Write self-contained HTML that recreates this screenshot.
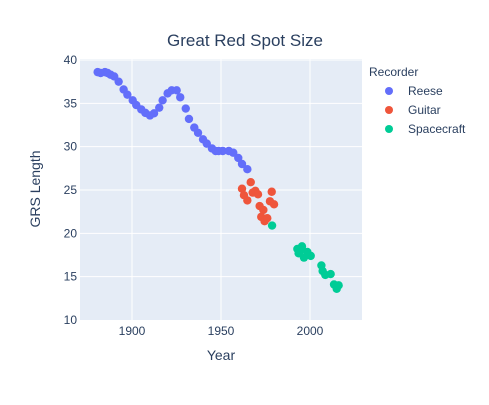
<!DOCTYPE html>
<html><head><meta charset="utf-8"><style>
body{margin:0;background:#fff;font-family:"Liberation Sans",Arial,sans-serif}
svg text{fill:#2a3f5f}
</style></head><body>
<svg width="489" height="400" id="c">
<text x="245" y="46" text-anchor="middle" font-size="17">Great Red Spot Size</text>
<rect x="80" y="59" width="282" height="261" fill="#e5ecf6"/>
<g id="grid"></g><g id="marks"></g>
<text x="221" y="360" text-anchor="middle" font-size="14">Year</text>
<text x="40" y="189" text-anchor="middle" font-size="14" transform="rotate(-90 40 189)">GRS Length</text>
<g>
<text x="369" y="76" font-size="12">Recorder</text>
<g><circle cx="389" cy="91" r="4" fill="#636efa"/><text x="408" y="95" font-size="12">Reese</text></g>
<g><circle cx="389" cy="110" r="4" fill="#ef553b"/><text x="408" y="114" font-size="12">Guitar</text></g>
<g><circle cx="389" cy="129" r="4" fill="#00cc96"/><text x="408" y="133" font-size="12">Spacecraft</text></g>
</g>
</svg>
<script>
const xTicks=[1900,1950,2000];
const yTicks=[10,15,20,25,30,35,40];
const reeseYears=[1880.7,1882.4,1884.8,1886.3,1888,1890,1892.5,1895.3,1897.4,1900.4,1902.4,1905.2,1907.5,1910.1,1912.4,1915.3,1917.2,1920,1922.3,1925.1,1927.1,1930.2,1932,1935,1937.1,1939.9,1942,1944.9,1947,1948.7,1951,1954.4,1956.9,1959.7,1961.8,1964.8];
const reeseValues=[38.6,38.5,38.6,38.5,38.3,38.1,37.5,36.6,36.0,35.35,34.8,34.3,33.9,33.6,33.85,34.5,35.35,36.15,36.5,36.5,35.7,34.4,33.2,32.2,31.6,30.85,30.35,29.8,29.5,29.5,29.5,29.5,29.3,28.7,28.0,27.4];
const guitarYears=[1966.7,1961.8,1962.9,1964.8,1967.8,1969.3,1970.8,1978.5,1977.5,1979.8,1971.7,1973.8,1972.6,1974.5,1976];
const guitarValues=[25.9,25.15,24.4,23.8,24.7,24.9,24.5,24.8,23.7,23.35,23.15,22.7,21.9,21.4,21.75];
const spaceYears=[1978.7,1992.9,1994.4,1995.5,1993.6,1996.6,1998.5,2000.4,2006.4,2007.1,2008.6,2011.6,2013.5,2016.1,2015];
const spaceValues=[20.9,18.2,18.0,18.5,17.7,17.2,17.85,17.4,16.3,15.65,15.2,15.3,14.1,14.0,13.6];
const NS='http://www.w3.org/2000/svg';
const X=v=>132+(v-1900)*1.78;
const Y=v=>60+(40-v)*8.667;
const grid=document.getElementById('grid'),marks=document.getElementById('marks');
function mk(t,a,p){const e=document.createElementNS(NS,t);for(const k in a)e.setAttribute(k,a[k]);p.appendChild(e);return e;}
xTicks.forEach(t=>{
 const l=mk('line',{x1:X(t),x2:X(t),y1:59,y2:320,stroke:'#fff','stroke-width':1},grid);
 
 
 const s=mk('text',{x:X(t),y:335,'text-anchor':'middle','font-size':12},grid);s.textContent=t;
 
 
});
yTicks.forEach(t=>{
 if(t>10){const l=mk('line',{x1:80,x2:362,y1:Y(t),y2:Y(t),stroke:'#fff','stroke-width':1},grid);
 
 }
 const s=mk('text',{x:77,y:Y(t)+4,'text-anchor':'end','font-size':12},grid);s.textContent=t;
 
 
});
function series(xs,ys,col,name){
 xs.forEach((x,i)=>{const c=mk('circle',{cx:X(x),cy:Y(ys[i]),r:4.2,fill:col},marks);
 
 });
}
series(reeseYears,reeseValues,'#636efa','reese');
series(guitarYears,guitarValues,'#ef553b','guitar');
series(spaceYears,spaceValues,'#00cc96','spacecraft');
</script>
</body></html>
